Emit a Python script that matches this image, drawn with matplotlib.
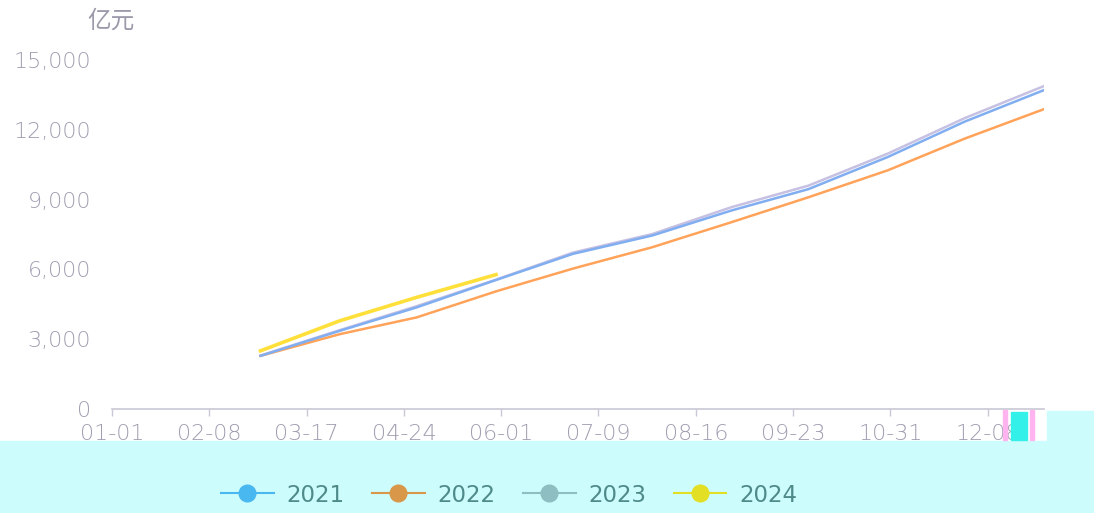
import matplotlib
matplotlib.use("Agg")
import matplotlib.pyplot as plt
from matplotlib.lines import Line2D
from matplotlib.patches import Rectangle

plt.rcParams['font.family'] = ['DejaVu Sans', 'Noto Sans CJK SC']

# -----------------------------------------------
# DATA (cumulative, 亿元, month-end points)
# -----------------------------------------------
days = [58, 89, 119, 150, 180, 211, 242, 272, 303, 333, 364]
v2021 = [2284, 3362, 4368, 5546, 6668, 7457, 8534, 9450, 10832, 12350, 13707]
v2022 = [2284, 3218, 3937, 5057, 6034, 6953, 8031, 9100, 10259, 11620, 12888]
v2023 = [2300, 3390, 4420, 5560, 6720, 7520, 8677, 9600, 10977, 12500, 13880]
v2024 = [2500, 3793, 4799, 5776]

tick_days = [0, 38, 76, 114, 152, 190, 228, 266, 304, 342]
tick_labels = ["01-01", "02-08", "03-17", "04-24", "06-01",
               "07-09", "08-16", "09-23", "10-31", "12-08"]
y_ticks = [0, 3000, 6000, 9000, 12000, 15000]

years = ["2021", "2022", "2023", "2024"]
line_colors = ["#80aef0", "#ffa35a", "#c6c0e2", "#ffe03a"]
legend_colors = ["#4ab8f0", "#d9974a", "#8fbec2", "#e3df25"]

# -----------------------------------------------
# FIGURE
# -----------------------------------------------
W, H = 1094, 513
fig = plt.figure(figsize=(W / 100, H / 100), dpi=100)

# cyan band at the bottom
fig.patches.append(Rectangle((0, 0), 1, 1 - 441 / H, transform=fig.transFigure,
                             color="#cdfcfc", zorder=0))
fig.patches.append(Rectangle((1047 / W, 1 - 441 / H), 1, 30 / H, transform=fig.transFigure,
                             color="#cdfcfc", zorder=0))

ax = fig.add_axes([112 / W, 1 - 409 / H, (1044 - 112) / W, (409 - 60) / H])
ax.set_facecolor("white")

ax.plot(days, v2023, color=line_colors[2], lw=1.8, zorder=3)
ax.plot(days, v2021, color=line_colors[0], lw=1.8, zorder=4)
ax.plot(days, v2022, color=line_colors[1], lw=1.8, zorder=3)
ax.plot(days[:len(v2024)], v2024, color=line_colors[3], lw=2.6, zorder=5)

ax.set_xlim(0, 364)
ax.set_ylim(0, 15000)
ax.set_xticks(tick_days)
ax.set_xticklabels(tick_labels)
ax.set_yticks(y_ticks)
ax.set_yticklabels([f"{v:,}" for v in y_ticks])

for s in ["top", "right", "left"]:
    ax.spines[s].set_visible(False)
ax.spines["bottom"].set_color("#c8c8d6")
ax.spines["bottom"].set_linewidth(1.2)
ax.tick_params(axis="x", colors="#c8c8d6", length=5, width=1, pad=6,
               labelcolor="#9e9eb0", labelsize=16)
ax.tick_params(axis="y", length=0, pad=15, labelcolor="#9e9eb0", labelsize=16)
for lab in ax.get_xticklabels() + ax.get_yticklabels():
    lab.set_fontweight("light")

fig.text(111 / W, 1 - 21 / H, "亿元", ha="center", va="center",
         color="#9a9aaa", fontsize=17, family=["Noto Sans CJK SC", "DejaVu Sans"])

# small artefacts around the last tick label
fig.patches.append(Rectangle((1003 / W, 1 - 440 / H), 4 / W, 30 / H,
                             transform=fig.transFigure, color="#ffb4f0", zorder=5))
fig.patches.append(Rectangle((1030 / W, 1 - 440 / H), 4 / W, 30 / H,
                             transform=fig.transFigure, color="#ffb4f0", zorder=5))
fig.patches.append(Rectangle((1011 / W, 1 - 440 / H), 16 / W, 28 / H,
                             transform=fig.transFigure, color="#33f0e8", zorder=5))

handles = [Line2D([], [], color=c, lw=1.5, marker="o", markersize=12,
                  markerfacecolor=c, markeredgecolor=c) for c in legend_colors]
fig.legend(handles, years, loc="center", bbox_to_anchor=(509 / W, 1 - 495 / H),
           ncol=4, frameon=False, fontsize=16.5, handlelength=2.3,
           columnspacing=1.2, handletextpad=0.55, labelcolor="#4f8a8a")

fig.savefig("out.png", dpi=100)
